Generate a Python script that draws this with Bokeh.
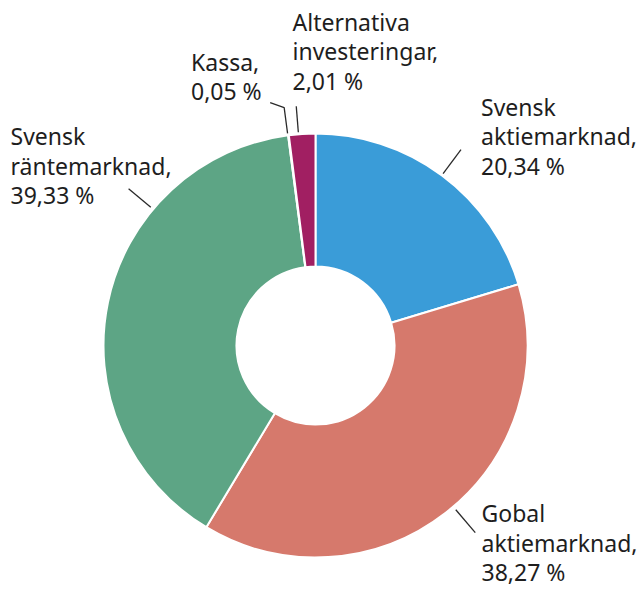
import math
from bokeh.plotting import figure
from bokeh.models import Range1d, ColumnDataSource
from bokeh.core.properties import value
from bokeh.embed import file_html
from bokeh.resources import INLINE

# ---------------- data ----------------
categories = ["Svensk aktiemarknad", "Gobal aktiemarknad", "Svensk räntemarknad",
              "Kassa", "Alternativa investeringar"]
label_names = [["Svensk", "aktiemarknad,"], ["Gobal", "aktiemarknad,"],
               ["Svensk", "räntemarknad,"], ["Kassa,"], ["Alternativa", "investeringar,"]]
shares = [20.34, 38.27, 39.33, 0.05, 2.01]
colors = ["#3a9cd8", "#d6796c", "#5da585", "#b0b0b0", "#a11f62"]

# ---------------- layout (screen px) ----------------
W, H = 638, 590
PAGE_H = 590
CX, CY = 315, 345          # donut centre (screen)
R_OUT, R_IN = 212, 79
# leader lines: angle clockwise from top (deg), inner & outer radius, optional elbow offset
leader_angle = [36.6, 139.5, 310.0, 352.5, 355.4]
leader_r0 = [214, 216, 215, 214, 214]
leader_r1 = [244, 246, 244, 240, 240]
elbow = [None, None, None, (-14, -5), None]
# label anchor: left x, first baseline y
label_pos = [(480.5, 116.5), (481, 523.0), (10, 146), (190.5, 71.5), (292, 31.7)]
LINE_GAP = 29.6
TEXT_DY = -10.5            # compensation for renderer baseline placement
FONT = "Noto Sans"
FSIZE = "23px"
TCOL = "#1e1e1e"


def dy(ys):
    return PAGE_H - ys


p = figure(width=W, height=H, output_backend="svg", toolbar_location=None,
           x_range=Range1d(0, W), y_range=Range1d(PAGE_H - H, PAGE_H),
           min_border=0)
p.axis.visible = False
p.grid.visible = False
p.outline_line_color = None
p.background_fill_color = "white"
p.border_fill_color = "white"

total = sum(shares)
starts, ends = [], []
cum = 0.0
for s in shares:
    starts.append(math.pi / 2 - 2 * math.pi * cum / total)
    cum += s
    ends.append(math.pi / 2 - 2 * math.pi * cum / total)

src = ColumnDataSource(dict(cat=categories, share=shares, color=colors,
                            start=starts, end=ends))
p.annular_wedge(x=CX, y=dy(CY), inner_radius=R_IN, outer_radius=R_OUT,
                start_angle="start", end_angle="end", direction="clock",
                fill_color="color", line_color="white", line_width=2, source=src)

# leader lines
xs, ys = [], []
for i in range(len(shares)):
    a = math.radians(leader_angle[i])
    x0 = CX + leader_r0[i] * math.sin(a)
    y0 = CY - leader_r0[i] * math.cos(a)
    x1 = CX + leader_r1[i] * math.sin(a)
    y1 = CY - leader_r1[i] * math.cos(a)
    lx = [x0, x1]
    ly = [dy(y0), dy(y1)]
    if elbow[i] is not None:
        lx.append(x1 + elbow[i][0])
        ly.append(dy(y1 + elbow[i][1]))
    xs.append(lx)
    ys.append(ly)
p.multi_line(xs=xs, ys=ys, line_color="#2a2a2a", line_width=1.3)

# labels
tx, ty, tt = [], [], []
for i, s in enumerate(shares):
    lines = label_names[i] + [f"{s:.2f}".replace(".", ",") + " %"]
    x0, y0 = label_pos[i]
    for k, t in enumerate(lines):
        tx.append(x0)
        ty.append(dy(y0 + k * LINE_GAP + TEXT_DY))
        tt.append(t)
p.text(x=tx, y=ty, text=tt, text_font=value(FONT), text_font_size=FSIZE,
       text_color=TCOL, text_baseline="alphabetic", text_align="left")

open("out.html", "w").write(file_html(p, INLINE))
